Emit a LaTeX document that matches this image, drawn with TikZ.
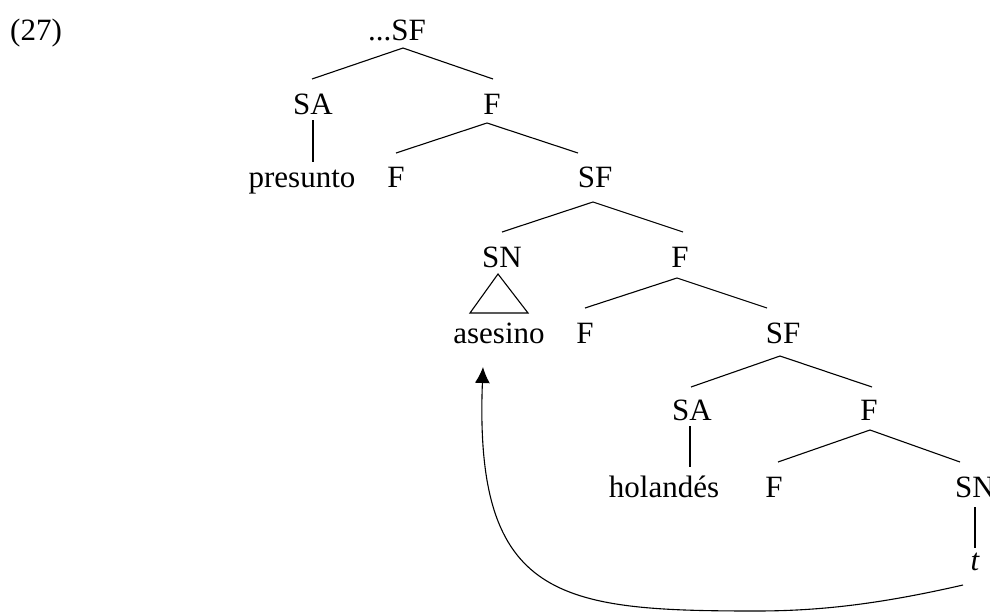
\documentclass[tikz,border=0pt]{standalone}
\usepackage{fontspec}
\setmainfont{Liberation Serif}
\usetikzlibrary{arrows.meta}
\begin{document}
\begin{tikzpicture}[x=1pt,y=-1pt,
  tn/.style={inner sep=0pt, anchor=base, font=\fontsize{31}{36}\selectfont},
  br/.style={line width=1.1pt},
  mv/.style={line width=1.1pt, -{Latex[length=16pt,width=15pt]}}]
\useasboundingbox (0,0) rectangle (990,613);
\clip (0,0) rectangle (990,613);
% labels
\node[tn] (ex) at (36,40) {(27)};
\node[tn] (SF0) at (397,40) {...SF};
\node[tn] (SA1) at (313,114) {SA};
\node[tn] (F1) at (492,114) {F};
\node[tn] (P2) at (302,187) {presunto};
\node[tn] (F2) at (396,187) {F};
\node[tn] (SF2) at (595,187) {SF};
\node[tn] (SN3) at (502,267) {SN};
\node[tn] (F3) at (680,267) {F};
\node[tn] (A4) at (499,343) {asesino};
\node[tn] (F4) at (585,343) {F};
\node[tn] (SF4) at (783,343) {SF};
\node[tn] (SA5) at (692,420) {SA};
\node[tn] (F5) at (869,420) {F};
\node[tn] (H6) at (664,497) {holandés};
\node[tn] (F6) at (774,497) {F};
\node[tn] (SN6) at (975,497) {SN};
\node[tn] (T7) at (975,570) {\itshape t};
% branches
\draw[br] ([shift={(-1,-35)}]SA1.base) -- ([shift={(6,8)}]SF0.base) -- ([shift={(1,-35)}]F1.base);
\draw[br] ([shift={(0,6)}]SA1.base) -- ([shift={(11,-25)}]P2.base);
\draw[br] ([shift={(0,-34)}]F2.base) -- ([shift={(-5,9)}]F1.base) -- ([shift={(-17,-34)}]SF2.base);
\draw[br] ([shift={(0,-35)}]SN3.base) -- ([shift={(-2,15)}]SF2.base) -- ([shift={(3,-35)}]F3.base);
\draw[br] ([shift={(-4,7)}]SN3.base) -- ([shift={(-29,-30)}]A4.base) -- ([shift={(29,-30)}]A4.base) -- cycle;
\draw[br] ([shift={(0,-35)}]F4.base) -- ([shift={(-3,11)}]F3.base) -- ([shift={(-16,-35)}]SF4.base);
\draw[br] ([shift={(-1,-33)}]SA5.base) -- ([shift={(-3,13)}]SF4.base) -- ([shift={(3,-33)}]F5.base);
\draw[br] ([shift={(-2,6)}]SA5.base) -- ([shift={(26,-30)}]H6.base);
\draw[br] ([shift={(4,-35)}]F6.base) -- ([shift={(1,10)}]F5.base) -- ([shift={(-15,-35)}]SN6.base);
\draw[br] ([shift={(0,10)}]SN6.base) -- ([shift={(0,-22)}]T7.base);
% movement arrow
\coordinate (low) at (756,611);
\draw[mv] ([shift={(-12,15)}]T7.base) .. controls (880,604) and (820,611) .. (low)
  .. controls (560,611) and (474,600) .. ([shift={(-16,24)}]A4.base);
\end{tikzpicture}
\end{document}
